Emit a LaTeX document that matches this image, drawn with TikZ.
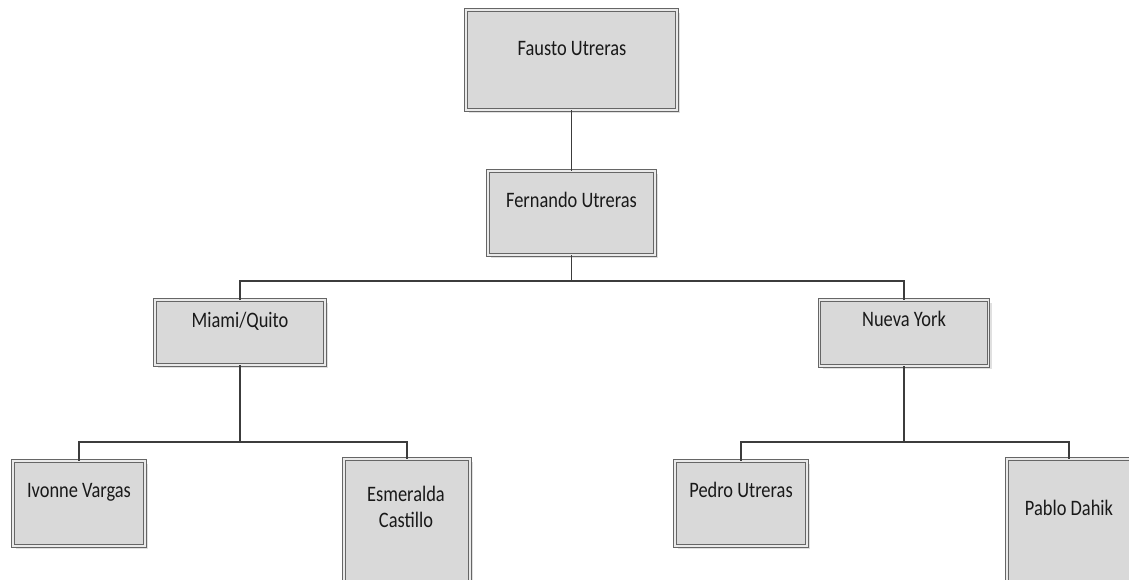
\documentclass[tikz,border=0pt]{standalone}
\usepackage{fontspec}
\setmainfont{Carlito}
\usetikzlibrary{shadows}
\definecolor{boxfill}{HTML}{D9D9D9}
\definecolor{boxline}{HTML}{666666}
\definecolor{linkline}{HTML}{3C3C3C}
\tikzset{
  orgbox/.style={rectangle, draw=boxline, line width=0.8pt, double=boxfill!55!white, double distance=1.8pt,
    fill=boxfill, inner sep=0pt,
    drop shadow={shadow xshift=3pt, shadow yshift=-3pt, fill=black!12, opacity=1}},
  orgtext/.style={anchor=base, inner sep=0pt, font=\fontsize{18.4}{21}\selectfont, align=center,
    text=black!90, yscale=1.2, transform shape},
  link/.style={draw=linkline, line width=1.5pt}
}
\begin{document}
\begin{tikzpicture}[x=1pt,y=-1pt]
\useasboundingbox (0,0) rectangle (1129,579);
\clip (0,0) rectangle (1129,579);
\fill[white] (0,0) rectangle (1129,579);
% boxes
\node[orgbox, minimum width=211pt, minimum height=100pt] (fausto) at (571.5,60) {};
\node[orgbox, minimum width=167pt, minimum height=84pt] (fernando) at (571.5,213) {};
\node[orgbox, minimum width=170pt, minimum height=65pt] (miami) at (240,332.5) {};
\node[orgbox, minimum width=169pt, minimum height=66pt] (nueva) at (904,333) {};
\node[orgbox, minimum width=132pt, minimum height=85pt] (ivonne) at (79,503.5) {};
\node[orgbox, minimum width=126pt, minimum height=130pt] (esmeralda) at (407,524) {};
\node[orgbox, minimum width=132pt, minimum height=85pt] (pedro) at (741,503.5) {};
\node[orgbox, minimum width=124pt, minimum height=124pt] (pablo) at (1069,521) {};
% texts
\node[orgtext] (faustot) at (572,55) {Fausto Utreras};
\node[orgtext] (fernandot) at (571.5,207) {Fernando Utreras};
\node[orgtext] (miamit) at (240,327) {Miami/Quito};
\node[orgtext] (nuevat) at (904,326) {Nueva York};
\node[orgtext] (ivonnet) at (79,497) {Ivonne Vargas};
\node[orgtext] (esmeraldat) at (406,527) {Esmeralda\\Castillo};
\node[orgtext] (pedrot) at (741,497) {Pedro Utreras};
\node[orgtext] (pablot) at (1069,515) {Pablo Dahik};
% junctions
\coordinate (j1) at (571.5,281);
\coordinate (j2) at (240,442);
\coordinate (j3) at (904,442);
% connectors
\draw[link] (fausto.south) -- (fernando.north);
\draw[link] (fernando.south) -- (j1);
\draw[link] (j1) -| (miami.north);
\draw[link] (j1) -| (nueva.north);
\draw[link] (miami.south) -- (j2);
\draw[link] (j2) -| (ivonne.north);
\draw[link] (j2) -| (esmeralda.north);
\draw[link] (nueva.south) -- (j3);
\draw[link] (j3) -| (pedro.north);
\draw[link] (j3) -| (pablo.north);
\end{tikzpicture}
\end{document}
